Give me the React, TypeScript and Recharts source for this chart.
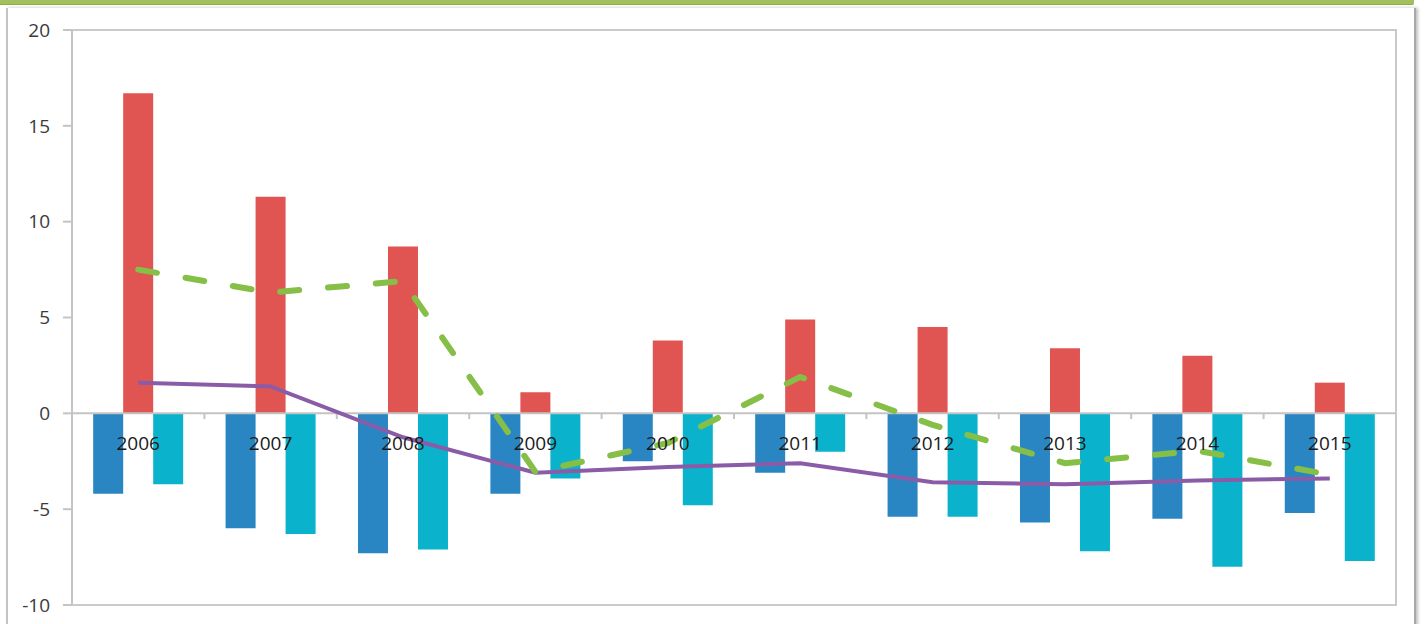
import React from 'react';
import { ComposedChart, Bar, Line, XAxis, YAxis, ReferenceLine, ReferenceArea, LabelList } from 'recharts';

const years = ['2006', '2007', '2008', '2009', '2010', '2011', '2012', '2013', '2014', '2015'];
const blueValues = [-4.2, -6.0, -7.3, -4.2, -2.5, -3.1, -5.4, -5.7, -5.5, -5.2];
const redValues = [16.7, 11.3, 8.7, 1.1, 3.8, 4.9, 4.5, 3.4, 3.0, 1.6];
const cyanValues = [-3.7, -6.3, -7.1, -3.4, -4.8, -2.0, -5.4, -7.2, -8.0, -7.7];
const purpleValues = [1.6, 1.4, -1.25, -3.1, -2.8, -2.6, -3.6, -3.7, -3.5, -3.4];
const greenValues = [7.5, 6.3, 6.9, -3.05, -1.55, 1.9, -0.6, -2.6, -1.95, -3.2];
const yTicks = [-10, -5, 0, 5, 10, 15, 20];

const data = years.map((year, i) => ({
  year,
  blue: blueValues[i],
  red: redValues[i],
  cyan: cyanValues[i],
  purple: purpleValues[i],
  green: greenValues[i],
}));

const FONT = '"Open Sans", "Liberation Sans", sans-serif';

// year names sit just under the zero line, centred on the middle (red) bar
const YearLabel = (props: any) => {
  const box = props.viewBox ?? props;
  const { x, y, width, height } = box;
  const base = Math.min(y, y + height);
  return (
    <text x={x - width / 2} y={base + 37} textAnchor="middle" fontFamily={FONT} fontSize={19} fill="#1a1a1a">
      {props.value}
    </text>
  );
};

const App: React.FC = () => {
  return (
    <div style={{ position: 'absolute', left: 0, top: 0, width: 1426, height: 624, overflow: 'hidden', background: '#fff' }}>
      <div style={{ position: 'absolute', left: 0, top: 0, width: 1414, height: 4, background: '#a2c05e', borderBottom: '1px solid #8fae4c', borderBottomRightRadius: 2 }} />
      <div
        style={{
          position: 'absolute',
          left: 6,
          top: 8,
          width: 1406,
          height: 640,
          background: '#fff',
          borderLeft: '2px solid #c4c4c4',
          borderRight: '2px solid #a8a8a8',
          boxShadow: '2px 0 3px rgba(0,0,0,0.25)',
        }}
      />
      <div style={{ position: 'absolute', left: 0, top: 0 }}>
        <ComposedChart
          width={1426}
          height={624}
          data={data}
          margin={{ top: 30, right: 30, bottom: 19, left: 12 }}
          barCategoryGap="16%"
          barGap={0}
        >
          <XAxis dataKey="year" hide />
          <YAxis
            domain={[-10, 20]}
            ticks={yTicks}
            width={60}
            interval={0}
            tickSize={9}
            tickMargin={13}
            axisLine={{ stroke: '#c4c4c4', strokeWidth: 2 }}
            tickLine={{ stroke: '#c4c4c4', strokeWidth: 2 }}
            tick={{ fontFamily: FONT, fontSize: 19, fill: '#3a3a3a' }}
          />
          <ReferenceArea y1={-10} y2={20} fill="none" stroke="#cacaca" strokeWidth={2} ifOverflow="visible" />
          <ReferenceLine y={0} stroke="#c4c4c4" strokeWidth={2} />
          {years.slice(1).map((y) => (
            <ReferenceLine
              key={y}
              position="start"
              segment={[{ x: y, y: 0 }, { x: y, y: -0.3 }]}
              stroke="#c4c4c4"
              strokeWidth={2}
            />
          ))}
          <Bar dataKey="blue" fill="#2a86c3" isAnimationActive={false} />
          <Bar dataKey="red" fill="#e05452" isAnimationActive={false} />
          <Bar dataKey="cyan" fill="#0ab3cb" isAnimationActive={false}>
            <LabelList dataKey="year" content={<YearLabel />} />
          </Bar>
          <Line
            type="linear"
            dataKey="purple"
            stroke="#8a5ca8"
            strokeWidth={4}
            dot={false}
            isAnimationActive={false}
          />
          <Line
            type="linear"
            dataKey="green"
            stroke="#86bf47"
            strokeWidth={6}
            strokeDasharray="19 29"
            strokeLinecap="round"
            dot={false}
            isAnimationActive={false}
          />
        </ComposedChart>
      </div>
    </div>
  );
};

export default App;
